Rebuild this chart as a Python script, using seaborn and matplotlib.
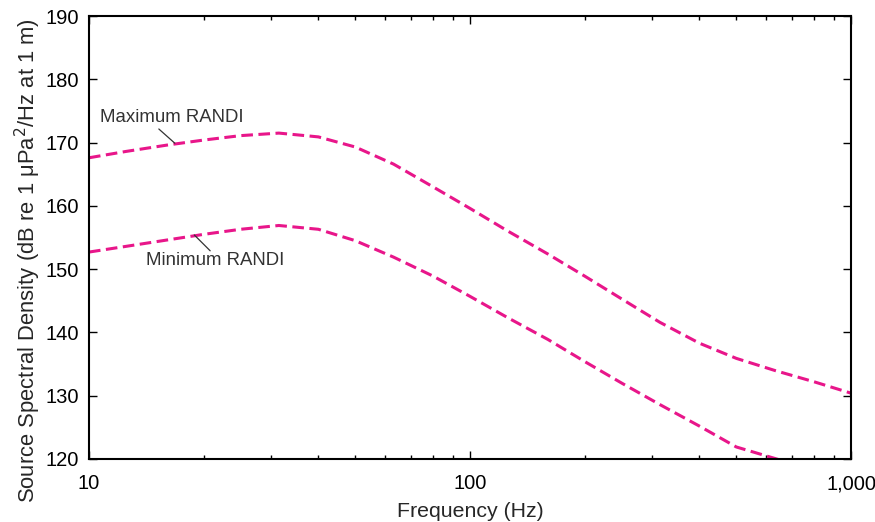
import numpy as np
import pandas as pd
import seaborn as sns
import matplotlib.pyplot as plt
from matplotlib.ticker import FixedLocator, LogLocator, NullFormatter

# 1/3-octave frequencies (Hz)
freqs = [10, 12.5, 16, 20, 25, 31.5, 40, 50, 63, 80, 100, 125, 160, 200,
         250, 315, 400, 500, 630, 800, 1000]

# source spectral density (dB re 1 uPa^2/Hz at 1 m)
max_randi = [167.6, 168.6, 169.6, 170.4, 171.1, 171.5, 170.9, 169.3, 166.6, 163.0,
             159.6, 156.1, 152.4, 148.9, 145.3, 141.6, 138.3, 135.9, 134.0, 132.2, 130.4]
min_randi = [152.7, 153.6, 154.6, 155.5, 156.3, 156.9, 156.3, 154.5, 151.9, 148.9,
             145.7, 142.4, 138.9, 135.4, 132.0, 128.6, 125.2, 121.9, 120.1, 118.2, 116.4]

series_names = ["Maximum RANDI", "Minimum RANDI"]
x_ticks = [10, 100, 1000]
x_tick_labels = ["10", "100", "1,000"]
y_ticks = [120, 130, 140, 150, 160, 170, 180, 190]

df = pd.DataFrame({
    "freq": freqs * 2,
    "level": max_randi + min_randi,
    "source": [series_names[0]] * len(freqs) + [series_names[1]] * len(freqs),
})

sns.set_style("ticks")
plt.rcParams["font.family"] = ["Liberation Sans", "DejaVu Sans"]

line_color = "#e8168a"
note_color = "#333333"

fig = plt.figure(figsize=(8.75, 5.22), dpi=100)
ax = fig.add_axes([0.1017, 0.1207, 0.8709, 0.8486])

sns.lineplot(data=df, x="freq", y="level", hue="source", style="source",
             palette=[line_color, line_color], dashes=[(3.8, 1.8), (3.8, 1.8)],
             linewidth=2.2, legend=False, ax=ax)

ax.set_xscale("log")
ax.set_xlim(10, 1000)
ax.set_ylim(120, 190)
ax.xaxis.set_major_locator(FixedLocator(x_ticks))
ax.set_xticklabels(x_tick_labels)
ax.xaxis.set_minor_locator(LogLocator(base=10, subs=np.arange(2, 10)))
ax.xaxis.set_minor_formatter(NullFormatter())
ax.set_yticks(y_ticks)

ax.tick_params(which="both", direction="in", top=True, right=True,
               labelsize=14.5, colors="black", width=1)
ax.tick_params(which="major", length=6)
ax.tick_params(which="minor", length=3)
ax.tick_params(axis="y", pad=7)
ax.tick_params(axis="x", pad=11)
for sp in ax.spines.values():
    sp.set_linewidth(1.5)
    sp.set_color("black")

ax.set_xlabel("Frequency (Hz)", fontsize=15.3, labelpad=6)
ax.set_ylabel(r"Source Spectral Density (dB re 1 $\mathregular{\mu}$Pa$^2$/Hz at 1 m)",
              fontsize=15.8)
ax.yaxis.set_label_coords(-0.061, 0.449)

# leader lines and labels
ax.annotate("", xy=(16.8, 169.9), xytext=(15.25, 172.15),
            arrowprops=dict(arrowstyle="-", color=note_color, lw=0.9,
                            shrinkA=0, shrinkB=0))
ax.text(16.5, 173.9, series_names[0], fontsize=13.4, color=note_color,
        ha="center", va="center")
ax.annotate("", xy=(18.9, 155.4), xytext=(20.8, 152.9),
            arrowprops=dict(arrowstyle="-", color=note_color, lw=0.9,
                            shrinkA=0, shrinkB=0))
ax.text(21.4, 151.4, series_names[1], fontsize=13.4, color=note_color,
        ha="center", va="center")

fig.savefig("out.png", dpi=100)
